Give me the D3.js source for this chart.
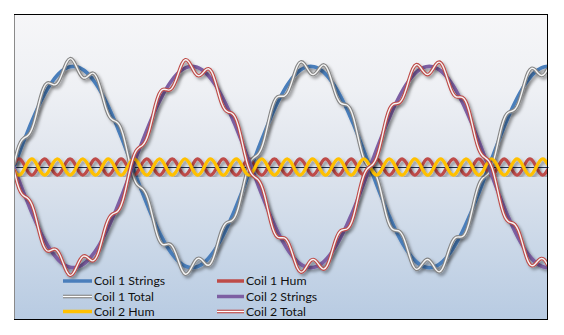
<!DOCTYPE html>
<html>
<head>
<meta charset="utf-8">
<script src="https://cdn.jsdelivr.net/npm/d3@7"></script>
<style>
  html, body { margin: 0; padding: 0; background: #ffffff; }
  svg { display: block; }
  text { font-family: Lato, "Open Sans", "Liberation Sans", sans-serif; }
</style>
</head>
<body>
<svg id="chart" width="564" height="335"></svg>
<script>
// ---- Data (phase in degrees of the string vibration) ----
const phaseDeg = [0,5,10,15,20,25,30,35,40,45,50,55,60,65,70,75,80,85,90,95,100,105,110,115,120,125,130,135,140,145,150,155,160,165,170,175,180,185,190,195,200,205,210,215,220,225,230,235,240,245,250,255,260,265,270,275,280,285,290,295,300,305,310,315,320,325,330,335,340,345,350,355,360,365,370,375,380,385,390,395,400,405,410,415,420,425,430,435,440,445,450,455,460,465,470,475,480,485,490,495,500,505,510,515,520,525,530,535,540,545,550,555,560,565,570,575,580,585,590,595,600,605,610,615,620,625,630,635,640,645,650,655,660,665,670,675,680,685,690,695,700,705,710,715,720,725,730,735,740,745,750,755,760,765,770,775,780,785,790,795,800,805,810];

const coil1Strings = [0,.087,.174,.259,.342,.423,.5,.574,.643,.707,.766,.819,.866,.906,.94,.966,.985,.996,1,.996,.985,.966,.94,.906,.866,.819,.766,.707,.643,.574,.5,.423,.342,.259,.174,.087,0,-.087,-.174,-.259,-.342,-.423,-.5,-.574,-.643,-.707,-.766,-.819,-.866,-.906,-.94,-.966,-.985,-.996,-1,-.996,-.985,-.966,-.94,-.906,-.866,-.819,-.766,-.707,-.643,-.574,-.5,-.423,-.342,-.259,-.174,-.087,
0,.087,.174,.259,.342,.423,.5,.574,.643,.707,.766,.819,.866,.906,.94,.966,.985,.996,1,.996,.985,.966,.94,.906,.866,.819,.766,.707,.643,.574,.5,.423,.342,.259,.174,.087,0,-.087,-.174,-.259,-.342,-.423,-.5,-.574,-.643,-.707,-.766,-.819,-.866,-.906,-.94,-.966,-.985,-.996,-1,-.996,-.985,-.966,-.94,-.906,-.866,-.819,-.766,-.707,-.643,-.574,-.5,-.423,-.342,-.259,-.174,-.087,
0,.087,.174,.259,.342,.423,.5,.574,.643,.707,.766,.819,.866,.906,.94,.966,.985,.996,1];

const coil2Strings = [0,-.087,-.174,-.259,-.342,-.423,-.5,-.574,-.643,-.707,-.766,-.819,-.866,-.906,-.94,-.966,-.985,-.996,-1,-.996,-.985,-.966,-.94,-.906,-.866,-.819,-.766,-.707,-.643,-.574,-.5,-.423,-.342,-.259,-.174,-.087,0,.087,.174,.259,.342,.423,.5,.574,.643,.707,.766,.819,.866,.906,.94,.966,.985,.996,1,.996,.985,.966,.94,.906,.866,.819,.766,.707,.643,.574,.5,.423,.342,.259,.174,.087,
0,-.087,-.174,-.259,-.342,-.423,-.5,-.574,-.643,-.707,-.766,-.819,-.866,-.906,-.94,-.966,-.985,-.996,-1,-.996,-.985,-.966,-.94,-.906,-.866,-.819,-.766,-.707,-.643,-.574,-.5,-.423,-.342,-.259,-.174,-.087,0,.087,.174,.259,.342,.423,.5,.574,.643,.707,.766,.819,.866,.906,.94,.966,.985,.996,1,.996,.985,.966,.94,.906,.866,.819,.766,.707,.643,.574,.5,.423,.342,.259,.174,.087,
0,-.087,-.174,-.259,-.342,-.423,-.5,-.574,-.643,-.707,-.766,-.819,-.866,-.906,-.94,-.966,-.985,-.996,-1];

const coil1Hum = [.028,.074,.074,.028,-.035,-.076,-.07,-.02,.042,.078,.066,.012,-.049,-.08,-.061,-.004,.055,.08,.055,-.004,-.061,-.08,-.049,.012,.066,.078,.042,-.02,-.07,-.076,-.035,
.028,.074,.074,.028,-.035,-.076,-.07,-.02,.042,.078,.066,.012,-.049,-.08,-.061,-.004,.055,.08,.055,-.004,-.061,-.08,-.049,.012,.066,.078,.042,-.02,-.07,-.076,-.035,
.028,.074,.074,.028,-.035,-.076,-.07,-.02,.042,.078,.066,.012,-.049,-.08,-.061,-.004,.055,.08,.055,-.004,-.061,-.08,-.049,.012,.066,.078,.042,-.02,-.07,-.076,-.035,
.028,.074,.074,.028,-.035,-.076,-.07,-.02,.042,.078,.066,.012,-.049,-.08,-.061,-.004,.055,.08,.055,-.004,-.061,-.08,-.049,.012,.066,.078,.042,-.02,-.07,-.076,-.035,
.028,.074,.074,.028,-.035,-.076,-.07,-.02,.042,.078,.066,.012,-.049,-.08,-.061,-.004,.055,.08,.055,-.004,-.061,-.08,-.049,.012,.066,.078,.042,-.02,-.07,-.076,-.035,
.028,.074,.074,.028,-.035,-.076,-.07,-.02];

const coil2Hum = [-.028,-.074,-.074,-.028,.035,.076,.07,.02,-.042,-.078,-.066,-.012,.049,.08,.061,.004,-.055,-.08,-.055,.004,.061,.08,.049,-.012,-.066,-.078,-.042,.02,.07,.076,.035,
-.028,-.074,-.074,-.028,.035,.076,.07,.02,-.042,-.078,-.066,-.012,.049,.08,.061,.004,-.055,-.08,-.055,.004,.061,.08,.049,-.012,-.066,-.078,-.042,.02,.07,.076,.035,
-.028,-.074,-.074,-.028,.035,.076,.07,.02,-.042,-.078,-.066,-.012,.049,.08,.061,.004,-.055,-.08,-.055,.004,.061,.08,.049,-.012,-.066,-.078,-.042,.02,.07,.076,.035,
-.028,-.074,-.074,-.028,.035,.076,.07,.02,-.042,-.078,-.066,-.012,.049,.08,.061,.004,-.055,-.08,-.055,.004,.061,.08,.049,-.012,-.066,-.078,-.042,.02,.07,.076,.035,
-.028,-.074,-.074,-.028,.035,.076,.07,.02,-.042,-.078,-.066,-.012,.049,.08,.061,.004,-.055,-.08,-.055,.004,.061,.08,.049,-.012,-.066,-.078,-.042,.02,.07,.076,.035,
-.028,-.074,-.074,-.028,.035,.076,.07,.02];

const coil1Total = [.028,.161,.248,.287,.307,.347,.43,.554,.685,.785,.832,.831,.817,.826,.879,.962,1.04,1.076,1.055,.992,.924,.886,.891,.918,.932,.897,.808,.687,.573,.498,.465,
.451,.416,.333,.202,.052,-.076,-.157,-.194,-.217,-.264,-.357,-.488,-.623,-.723,-.768,-.77,-.764,-.786,-.851,-.944,-1.027,-1.065,-1.045,-.988,-.93,-.907,-.924,-.96,-.976,-.942,-.854,
-.738,-.633,-.569,-.546,-.535,-.499,-.412,-.279,-.132,-.009,.066,.099,.125,.179,.281,.419,.555,.654,.698,.703,.705,.739,.817,.918,1.006,1.044,1.027,.976,.93,.92,.95,
.994,1.014,.98,.894,.784,.69,.637,.623,.616,.578,.489,.354,.21,.094,.026,-.004,-.032,-.094,-.204,-.346,-.484,-.58,-.623,-.631,-.641,-.688,-.777,-.886,-.976,-1.016,-1.001,
-.957,-.922,-.926,-.968,-1.02,-1.042,-1.01,-.926,-.824,-.741,-.7,-.695,-.692,-.654,-.561,-.427,-.287,-.179,-.119,-.091,-.061,.007,.125,.271,.408,.501,.542,.554,.573,.631,.731,
.847,.94,.98,.968,.931,.909,.926,.98];

const coil2Total = [-.028,-.161,-.248,-.287,-.307,-.347,-.43,-.554,-.685,-.785,-.832,-.831,-.817,-.826,-.879,-.962,-1.04,-1.076,-1.055,-.992,-.924,-.886,-.891,-.918,-.932,-.897,-.808,-.687,-.573,-.498,-.465,
-.451,-.416,-.333,-.202,-.052,.076,.157,.194,.217,.264,.357,.488,.623,.723,.768,.77,.764,.786,.851,.944,1.027,1.065,1.045,.988,.93,.907,.924,.96,.976,.942,.854,
.738,.633,.569,.546,.535,.499,.412,.279,.132,.009,-.066,-.099,-.125,-.179,-.281,-.419,-.555,-.654,-.698,-.703,-.705,-.739,-.817,-.918,-1.006,-1.044,-1.027,-.976,-.93,-.92,-.95,
-.994,-1.014,-.98,-.894,-.784,-.69,-.637,-.623,-.616,-.578,-.489,-.354,-.21,-.094,-.026,.004,.032,.094,.204,.346,.484,.58,.623,.631,.641,.688,.777,.886,.976,1.016,1.001,
.957,.922,.926,.968,1.02,1.042,1.01,.926,.824,.741,.7,.695,.692,.654,.561,.427,.287,.179,.119,.091,.061,-.007,-.125,-.271,-.408,-.501,-.542,-.554,-.573,-.631,-.731,
-.847,-.94,-.98,-.968,-.931,-.909,-.926,-.98];

const seriesNames = ["Coil 1 Strings", "Coil 1 Hum", "Coil 1 Total", "Coil 2 Strings", "Coil 2 Hum", "Coil 2 Total"];

// ---- Styles (kept separate from data) ----
const series = [
  { name: seriesNames[0], values: coil1Strings, color: "#4a7ebb", width: 3.6, double: false },
  { name: seriesNames[1], values: coil1Hum,     color: "#be4b48", width: 3.2, double: false },
  { name: seriesNames[2], values: coil1Total,   color: "#858585", width: 3.6, double: true },
  { name: seriesNames[3], values: coil2Strings, color: "#7d5fa3", width: 3.6, double: false },
  { name: seriesNames[4], values: coil2Hum,     color: "#ffc000", width: 3.2, double: false },
  { name: seriesNames[5], values: coil2Total,   color: "#be4b48", width: 3.6, double: true }
];

const plot = { left: 14, top: 14, right: 548, bottom: 319 };

const svg = d3.select("#chart");
const defs = svg.append("defs");

const grad = defs.append("linearGradient").attr("id", "bg")
  .attr("x1", 0).attr("y1", 0).attr("x2", 0).attr("y2", 1);
[[0, "#f6f6f8"], [0.25, "#eef0f4"], [0.5, "#dee4ed"], [0.75, "#cbd8e8"], [1, "#b8cbe2"]]
  .forEach(([o, c]) => grad.append("stop").attr("offset", o).attr("stop-color", c));

const shadow = defs.append("filter").attr("id", "shadow")
  .attr("x", "-5%").attr("y", "-10%").attr("width", "110%").attr("height", "120%");
shadow.append("feDropShadow").attr("dx", 2.2).attr("dy", 2.4)
  .attr("stdDeviation", 1.5).attr("flood-color", "#000").attr("flood-opacity", 0.36);

defs.append("clipPath").attr("id", "clip").append("rect")
  .attr("x", plot.left).attr("y", plot.top)
  .attr("width", plot.right - plot.left).attr("height", plot.bottom - plot.top);

// background
svg.append("rect").attr("x", plot.left).attr("y", plot.top)
  .attr("width", plot.right - plot.left).attr("height", plot.bottom - plot.top)
  .attr("fill", "url(#bg)");

const x = d3.scaleLinear().domain([phaseDeg[0], phaseDeg[phaseDeg.length - 1]]).range([plot.left, plot.right]);
const y = d3.scaleLinear().domain([-1.52, 1.52]).range([plot.bottom + 1, plot.top]);

// zero axis line
const xAxis = d3.axisBottom(x).tickSize(0).tickFormat("").ticks(0);
svg.append("g").attr("transform", `translate(0,${y(0)})`).call(xAxis)
  .call(g => g.select(".domain").attr("stroke", "#1f2f4f").attr("stroke-width", 1));

const line = d3.line()
  .x((d, i) => x(phaseDeg[i]))
  .y(d => y(d))
  .curve(d3.curveNatural);

const plotG = svg.append("g").attr("clip-path", "url(#clip)");

series.forEach(s => {
  const g = plotG.append("g").attr("filter", "url(#shadow)");
  g.append("path").attr("d", line(s.values))
    .attr("fill", "none").attr("stroke", s.color).attr("stroke-width", s.width)
    .attr("stroke-linejoin", "round");
  if (s.double) {
    g.append("path").attr("d", line(s.values))
      .attr("fill", "none").attr("stroke", "#f4f4f4").attr("stroke-width", 1.4)
      .attr("stroke-linejoin", "round");
  }
});

// border
svg.append("rect").attr("x", plot.left + 0.5).attr("y", plot.top + 0.5)
  .attr("width", plot.right - plot.left - 1).attr("height", plot.bottom - plot.top)
  .attr("fill", "none").attr("stroke", "#000").attr("stroke-width", 1);
svg.append("line").attr("x1", plot.left + 0.5).attr("x2", plot.left + 0.5)
  .attr("y1", plot.top + 1).attr("y2", plot.bottom)
  .attr("stroke", "#8a8a8a").attr("stroke-width", 1);

// legend (row-wise, two columns)
const legendCols = [63, 217];
const legendRows = [281, 296.5, 311.5];
const legend = svg.append("g");
series.forEach((s, i) => {
  const cx = legendCols[i % 2], cy = legendRows[Math.floor(i / 2)];
  const len = i % 2 === 0 ? 29 : 27;
  legend.append("line").attr("x1", cx).attr("x2", cx + len).attr("y1", cy).attr("y2", cy)
    .attr("stroke", s.color).attr("stroke-width", s.double ? 3.6 : 3.5);
  if (s.double) {
    legend.append("line").attr("x1", cx).attr("x2", cx + len).attr("y1", cy).attr("y2", cy)
      .attr("stroke", "#fff").attr("stroke-width", 1.3);
  }
  legend.append("text").attr("x", cx + len + 2).attr("y", cy + 4.3)
    .attr("font-size", 12.3).attr("fill", "#111").text(s.name);
});
</script>
</body>
</html>
